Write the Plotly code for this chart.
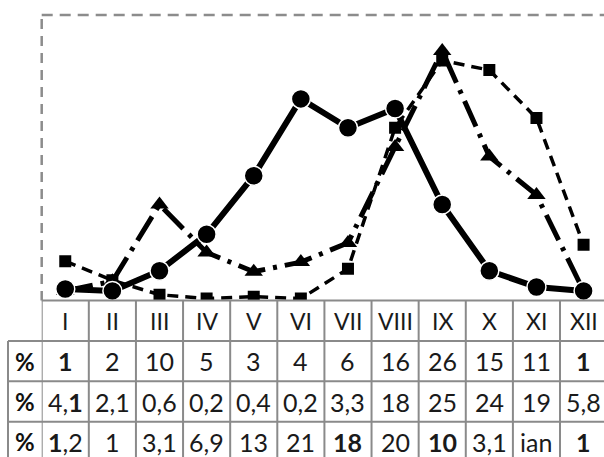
import plotly.graph_objects as go

months = ["I", "II", "III", "IV", "V", "VI", "VII", "VIII", "IX", "X", "XI", "XII"]
# series drawn in the chart
triangles = [1, 2, 10, 5, 3, 4, 6, 16, 26, 15, 11, 1]
squares = [4.1, 2.1, 0.6, 0.2, 0.4, 0.2, 3.3, 18, 25, 24, 19, 5.8]
circles = [1.2, 1, 3.1, 6.9, 13, 21, 18, 20, 10, 3.1, 1.4, 1]
# table text (as printed in the source)
row1_text = ["<b>1</b>", "2", "10", "5", "3", "4", "6", "16", "26", "15", "11", "<b>1</b>"]
row2_text = ["4,<b>1</b>", "2,1", "0,6", "0,2", "0,4", "0,2", "3,3", "18", "25", "24", "19", "5,8"]
row3_text = ["<b>1</b>,2", "1", "3,1", "6,9", "13", "21", "<b>18</b>", "20", "<b>10</b>", "3,1", "ian", "<b>1</b>"]
row_label = "%"

W, H = 604, 457
left_px, top_px, bottom_px = 41.7, 15, 300.5
col_w = 47.12
xs = list(range(len(months)))

def py(p):
    return (H - p) / H

def px(p):
    return p / W

fig = go.Figure()
fig.add_trace(go.Scatter(
    x=xs, y=squares, mode="lines+markers",
    line=dict(color="black", width=3.5, dash="11px,7px"),
    marker=dict(symbol="square", size=12, color="black"),
))
fig.add_trace(go.Scatter(
    x=xs, y=triangles, mode="lines+markers",
    line=dict(color="black", width=5, dash="28px,8px,4px,8px"),
    marker=dict(symbol="triangle-up", size=16, color="black"),
))
fig.add_trace(go.Scatter(
    x=xs, y=circles, mode="lines+markers",
    line=dict(color="black", width=6),
    marker=dict(symbol="circle", size=19, color="black", line=dict(color="white", width=1.5)),
))

grid = "#8a8a8a"
shapes = []
# dashed chart frame (top & left)
shapes.append(dict(type="line", xref="paper", yref="paper", x0=px(left_px), x1=1.02,
                   y0=py(top_px), y1=py(top_px), line=dict(color="#8c8c8c", width=2.5, dash="11px,7px")))
shapes.append(dict(type="line", xref="paper", yref="paper", x0=px(left_px), x1=px(left_px),
                   y0=py(top_px + 4), y1=py(bottom_px), line=dict(color="#8c8c8c", width=2.5, dash="10px,7px")))
# table lines
row_h = 40.4
row_lines = [bottom_px + row_h * k for k in range(4)]
for k, yl in enumerate(row_lines):
    x0 = px(left_px) if k == 0 else px(8)
    shapes.append(dict(type="line", xref="paper", yref="paper", x0=x0, x1=1.02, y0=py(yl), y1=py(yl),
                       line=dict(color=grid, width=2)))
shapes.append(dict(type="line", xref="paper", yref="paper", x0=px(8), x1=px(8),
                   y0=py(row_lines[1]), y1=-0.05, line=dict(color=grid, width=2)))
for i in range(len(months) + 1):
    shapes.append(dict(type="line", xref="x", yref="paper", x0=i - 0.5, x1=i - 0.5,
                       y0=py(bottom_px), y1=-0.05, line=dict(color=grid, width=2)))

annotations = []
font = dict(family="Lato, Carlito, sans-serif", size=25, color="#1a1a1a")
header_y = py(bottom_px + row_h / 2)
for i, m in enumerate(months):
    annotations.append(dict(xref="x", yref="paper", x=i, y=header_y, text=m, showarrow=False,
                            xanchor="center", yanchor="middle",
                            font=dict(family="Lato, sans-serif", size=23, color="#1a1a1a")))
for r, texts in enumerate([row1_text, row2_text, row3_text]):
    yc = py(bottom_px + row_h * (r + 1) + row_h / 2)
    annotations.append(dict(xref="paper", yref="paper", x=px((8 + left_px) / 2), y=yc,
                            text="<b>" + row_label + "</b>", showarrow=False,
                            xanchor="center", yanchor="middle",
                            font=dict(family="Lato, sans-serif", size=24, color="#111")))
    for i, t in enumerate(texts):
        annotations.append(dict(xref="x", yref="paper", x=i, y=yc, text=t, showarrow=False,
                                xanchor="center", yanchor="middle", font=font))

fig.update_layout(
    width=W, height=H,
    margin=dict(l=0, r=0, t=0, b=0),
    paper_bgcolor="white", plot_bgcolor="white",
    showlegend=False,
    xaxis=dict(domain=[px(left_px), 1], range=[-0.5, -0.5 + (W - left_px) / col_w],
               showgrid=False, zeroline=False, showticklabels=False, ticks="", showline=False),
    yaxis=dict(domain=[py(bottom_px), py(top_px)], range=[0, (bottom_px - top_px) / 9.6],
               showgrid=False, zeroline=False, showticklabels=False, ticks="", showline=False),
    shapes=shapes,
    annotations=annotations,
)

fig.write_html("out.html", config={"displayModeBar": False},
               post_script="document.body.style.margin='0';document.body.style.overflow='hidden';")
